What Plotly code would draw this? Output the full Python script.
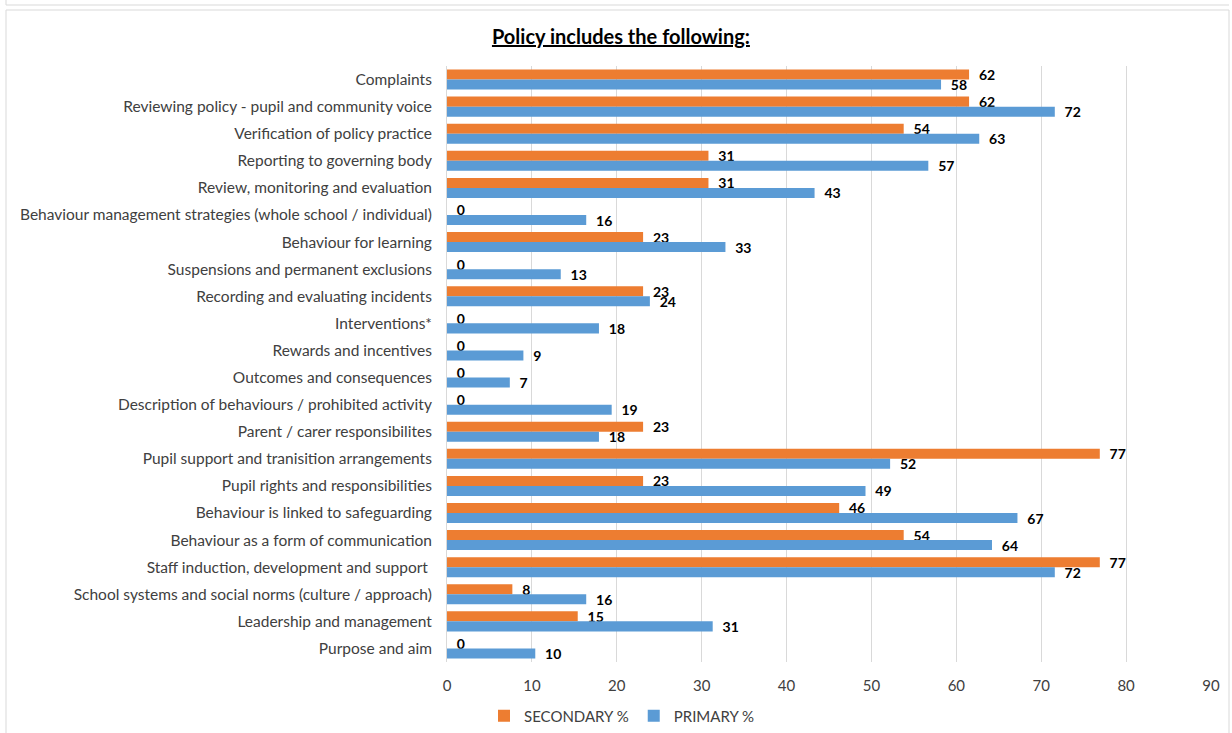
import plotly.graph_objects as go

categories = [
    "Complaints",
    "Reviewing policy - pupil and community voice",
    "Verification of policy practice",
    "Reporting to governing body",
    "Review, monitoring and evaluation",
    "Behaviour management strategies (whole school / individual)",
    "Behaviour for learning",
    "Suspensions and permanent exclusions",
    "Recording and evaluating incidents",
    "Interventions*",
    "Rewards and incentives",
    "Outcomes and consequences",
    "Description of behaviours / prohibited activity",
    "Parent / carer responsibilites",
    "Pupil support and tranisition arrangements",
    "Pupil rights and responsibilities",
    "Behaviour is linked to safeguarding",
    "Behaviour as a form of communication",
    "Staff induction, development and support ",
    "School systems and social norms (culture / approach)",
    "Leadership and management",
    "Purpose and aim",
]

secondary = [61.5, 61.5, 53.8, 30.8, 30.8, 0, 23.1, 0, 23.1, 0, 0, 0, 0, 23.1,
             76.9, 23.1, 46.2, 53.8, 76.9, 7.7, 15.4, 0]
primary = [58.2, 71.6, 62.7, 56.7, 43.3, 16.4, 32.8, 13.4, 23.9, 17.9, 9.0, 7.4,
           19.4, 17.9, 52.2, 49.3, 67.2, 64.2, 71.6, 16.4, 31.3, 10.4]

x_ticks = [0, 10, 20, 30, 40, 50, 60, 70, 80, 90]

ORANGE = "#ED7D31"
BLUE = "#5B9BD5"
FONT = "Lato"
NB = "\u00a0"

fig = go.Figure()
fig.add_trace(go.Bar(
    name="SECONDARY %", y=categories, x=secondary, orientation="h",
    marker=dict(color=ORANGE, line=dict(width=0)),
    texttemplate=NB * 2 + "%{x:.0f}", textposition="outside", cliponaxis=False,
    textfont=dict(family=FONT, size=14, color="#000000", weight="bold"),
    constraintext="none",
))
fig.add_trace(go.Bar(
    name="PRIMARY %", y=categories, x=primary, orientation="h",
    marker=dict(color=BLUE, line=dict(width=0)),
    texttemplate=NB * 2 + "%{x:.0f}", textposition="outside", cliponaxis=False,
    textfont=dict(family=FONT, size=14, color="#000000", weight="bold"),
    constraintext="none",
))

L, R, T, B = 447, 21, 66, 71
W, H = 1232, 733
pw, ph = W - L - R, H - T - B

def px(xp):
    return (xp - L) / pw

def py(yp):
    return (H - B - yp) / ph

fig.update_layout(
    width=W, height=H,
    margin=dict(l=L, r=R, t=T, b=B, autoexpand=False),
    paper_bgcolor="white", plot_bgcolor="white",
    barmode="group", bargap=0.26, bargroupgap=0,
    font=dict(family=FONT, size=15, color="#404040"),
    title=dict(text="<b><u>Policy includes the following:</u></b>",
               x=0.504, xref="container", xanchor="center",
               y=1 - 37 / H, yref="container", yanchor="middle",
               font=dict(family=FONT, size=20, color="#000000")),
    xaxis=dict(range=[0, 90], tickvals=x_ticks, showgrid=True,
               gridcolor="#D9D9D9", gridwidth=1, zeroline=False,
               showline=False, ticks="", tickfont=dict(size=15, color="#404040"),
               ticklabelstandoff=13),
    yaxis=dict(autorange="reversed", showgrid=False, showline=True,
               linecolor="#D9D9D9", linewidth=1, ticks="",
               tickfont=dict(size=15.5, color="#404040"), ticklabelstandoff=11),
    legend=dict(orientation="h", x=622 / W, xref="container", xanchor="center",
                y=1 - 716 / H, yref="container", yanchor="middle",
                font=dict(size=15, color="#404040"),
                traceorder="normal", itemwidth=30),
    showlegend=True,
    shapes=[
        dict(type="rect", xref="paper", yref="paper",
             x0=px(6), x1=px(1229), y0=py(760), y1=py(10),
             line=dict(color="#D9D9D9", width=1), layer="below"),
        dict(type="line", xref="paper", yref="paper",
             x0=px(6), x1=px(1229), y0=py(5), y1=py(5),
             line=dict(color="#D9D9D9", width=1)),
        dict(type="line", xref="paper", yref="paper",
             x0=px(6), x1=px(6), y0=py(0), y1=py(5),
             line=dict(color="#D9D9D9", width=1)),
    ],
)

fig.write_html("out.html")
